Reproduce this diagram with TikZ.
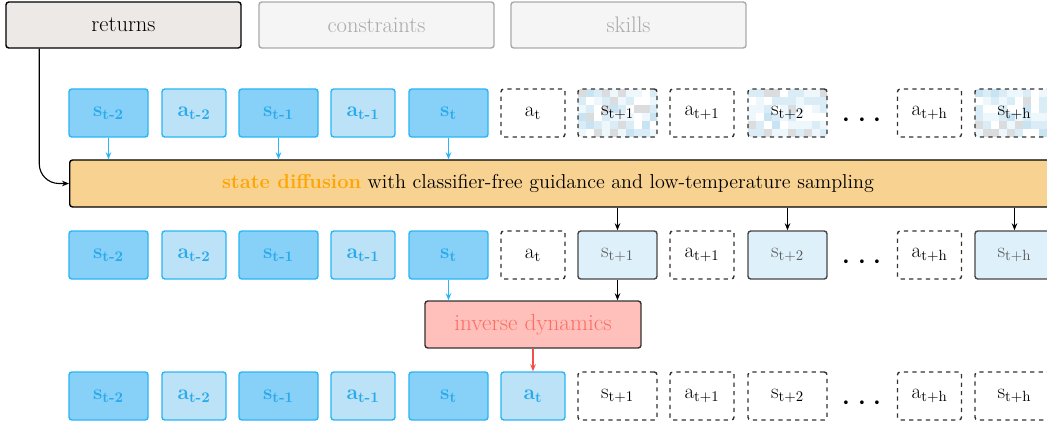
\documentclass[tikz,border=0pt]{standalone}
\usepackage{tikz}
\usetikzlibrary{arrows.meta,calc}

\definecolor{sfill}{RGB}{135,208,248}
\definecolor{afill}{RGB}{187,226,246}
\definecolor{sline}{RGB}{41,182,246}
\definecolor{stext}{RGB}{41,170,235}
\definecolor{pfill}{RGB}{222,240,250}
\definecolor{pline}{RGB}{70,70,70}
\definecolor{ptext}{RGB}{90,90,90}
\definecolor{difffill}{RGB}{248,210,145}
\definecolor{difftext}{RGB}{255,165,0}
\definecolor{invfill}{RGB}{255,192,187}
\definecolor{invtext}{RGB}{250,110,100}
\definecolor{invline}{RGB}{240,80,70}
\definecolor{retfill}{RGB}{236,233,231}
\definecolor{offfill}{RGB}{245,245,245}
\definecolor{offline}{RGB}{170,170,170}
\definecolor{noiseA}{RGB}{218,237,247}
\definecolor{noiseB}{RGB}{200,227,242}
\definecolor{noiseC}{RGB}{218,220,222}
\definecolor{noiseD}{RGB}{238,247,252}

\newcommand\boxfont{\fontsize{15}{18}\selectfont}
\newcommand\bigfont{\fontsize{14.3}{17}\selectfont}
\pgfmathdeclarerandomlist{noise}{{white}{noiseA}{noiseB}{noiseC}{noiseD}{noiseA}{noiseD}}
\pgfmathsetseed{11}

\tikzset{
    box/.style={rounded corners=2pt, line width=1pt, minimum height=1.2cm, inner sep=0pt},
    wide/.style={minimum width=1.975cm},
    narrow/.style={minimum width=1.6cm},
    sbox/.style={box, wide, draw=sline, fill=sfill, text=stext, font=\boxfont\bfseries},
    abox/.style={box, narrow, draw=sline, fill=afill, text=stext, font=\boxfont\bfseries},
    future/.style={box, draw=black!80, dashed, fill=white, font=\boxfont},
    noisy/.style={future, wide, path picture={
        \foreach \i in {0,...,9}{\foreach \j in {0,...,5}{
            \pgfmathrandomitem{\noisec}{noise}
            \fill[\noisec, sharp corners] ($(path picture bounding box.north west)+(\i*8,\j*8)$) rectangle ++(8,8);
        }}
    }},
    pred/.style={box, wide, draw=pline, fill=pfill, text=ptext, font=\boxfont},
    tab/.style={box, minimum width=5.875cm, minimum height=1.15cm, font=\fontsize{16}{19}\selectfont},
    dots/.style={font=\Huge},
    barrow/.style={draw=sline, -{Stealth[length=5pt,width=4pt]}},
    karrow/.style={draw=black, -{Stealth[length=5pt,width=4pt]}},
}

\begin{document}
\begin{tikzpicture}[x=0.025cm, y=-0.025cm, thick]
    \useasboundingbox (0,0) rectangle (1047,423);

    % conditioning
    \node[tab, draw=black, fill=retfill] (returns) at (123.5,25) {returns};
    \node[tab, draw=offline, fill=offfill, text=offline] (constraints) at (376.5,25) {constraints};
    \node[tab, draw=offline, fill=offfill, text=offline] (skills) at (628.5,25) {skills};

    % noisy trajectory
    \node[sbox] (ts2) at (108.5,113) {s\textsubscript{t-2}};
    \node[abox] (ta2) at (194,113) {a\textsubscript{t-2}};
    \node[sbox] (ts1) at (278.5,113) {s\textsubscript{t-1}};
    \node[abox] (ta1) at (363,113) {a\textsubscript{t-1}};
    \node[sbox] (ts0) at (448.5,113) {s\textsubscript{t}};
    \node[future, narrow] (ta0) at (533,113) {a\textsubscript{t}};
    \node[noisy] (tsp1) at (617.5,113) {s\textsubscript{t+1}};
    \node[future, narrow] (tap1) at (702,113) {a\textsubscript{t+1}};
    \node[noisy] (tsp2) at (787.5,113) {s\textsubscript{t+2}};
    \node[dots] (tdots) at (862,121) {$\cdots$};
    \node[future, narrow] (taph) at (929.5,113) {a\textsubscript{t+h}};
    \node[noisy] (tsph) at (1014.5,113) {s\textsubscript{t+h}};

    % diffusion
    \node[box, draw=black, fill=difffill, minimum width=27.5cm, minimum height=1.175cm, anchor=west] (state) at (69,183.5) {};
    \node[font=\bigfont] (statelabel) at (548,183.5) {\textcolor{difftext}{\bfseries state diffusion} with classifier-free guidance and low-temperature sampling};

    % predicted states
    \node[sbox] (ms2) at (108.5,255) {s\textsubscript{t-2}};
    \node[abox] (ma2) at (194,255) {a\textsubscript{t-2}};
    \node[sbox] (ms1) at (278.5,255) {s\textsubscript{t-1}};
    \node[abox] (ma1) at (363,255) {a\textsubscript{t-1}};
    \node[sbox] (ms0) at (448.5,255) {s\textsubscript{t}};
    \node[future, narrow] (ma0) at (533,255) {a\textsubscript{t}};
    \node[pred] (msp1) at (617.5,255) {s\textsubscript{t+1}};
    \node[future, narrow] (map1) at (702,255) {a\textsubscript{t+1}};
    \node[pred] (msp2) at (787.5,255) {s\textsubscript{t+2}};
    \node[dots] (mdots) at (862,263) {$\cdots$};
    \node[future, narrow] (maph) at (929.5,255) {a\textsubscript{t+h}};
    \node[pred] (msph) at (1014.5,255) {s\textsubscript{t+h}};

    % inverse dynamics
    \node[box, draw=black!80, fill=invfill, text=invtext, minimum width=5.4cm, minimum height=1.175cm, font=\fontsize{16.5}{19}\selectfont] (inv) at (533,324.5) {inverse dynamics};

    % executed action
    \node[sbox] (bs2) at (108.5,396) {s\textsubscript{t-2}};
    \node[abox] (ba2) at (194,396) {a\textsubscript{t-2}};
    \node[sbox] (bs1) at (278.5,396) {s\textsubscript{t-1}};
    \node[abox] (ba1) at (363,396) {a\textsubscript{t-1}};
    \node[sbox] (bs0) at (448.5,396) {s\textsubscript{t}};
    \node[abox] (ba0) at (533,396) {a\textsubscript{t}};
    \node[future, wide] (bsp1) at (617.5,396) {s\textsubscript{t+1}};
    \node[future, narrow] (bap1) at (702,396) {a\textsubscript{t+1}};
    \node[future, wide] (bsp2) at (787.5,396) {s\textsubscript{t+2}};
    \node[dots] (bdots) at (862,404) {$\cdots$};
    \node[future, narrow] (baph) at (929.5,396) {a\textsubscript{t+h}};
    \node[future, wide] (bsph) at (1014.5,396) {s\textsubscript{t+h}};

    % arrows
    \draw[karrow, rounded corners=14pt] ($(returns.south west)+(34,0)$) |- (state.west);
    \draw[barrow] (ts2) -- (state.north -| ts2);
    \draw[barrow] (ts1) -- (state.north -| ts1);
    \draw[barrow] (ts0) -- (state.north -| ts0);
    \draw[karrow] (state.south -| msp1) -- (msp1);
    \draw[karrow] (state.south -| msp2) -- (msp2);
    \draw[karrow] (state.south -| msph) -- (msph);
    \draw[barrow] (ms0) -- (inv.north -| ms0);
    \draw[karrow] (msp1) -- (inv.north -| msp1);
    \draw[draw=invline, -{Stealth[length=5pt,width=4pt]}] (inv.south -| ba0) -- (ba0);
\end{tikzpicture}
\end{document}
